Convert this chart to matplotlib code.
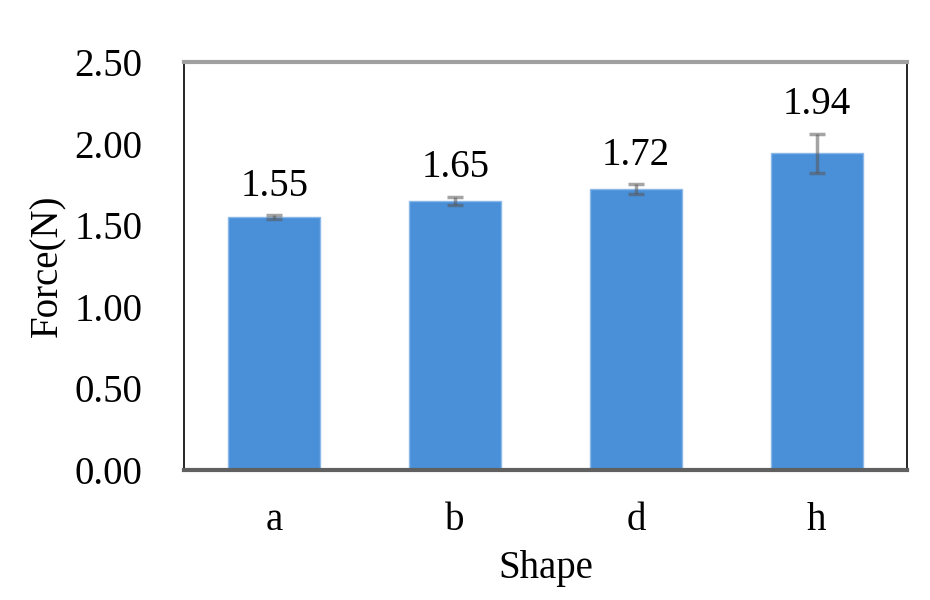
import matplotlib.pyplot as plt
import numpy as np

shapes = ['a', 'b', 'd', 'h']
force = [1.55, 1.65, 1.72, 1.94]
force_err = [0.01, 0.025, 0.03, 0.12]
yticks = [0.0, 0.5, 1.0, 1.5, 2.0, 2.5]

plt.rcParams['font.family'] = ['Liberation Serif', 'DejaVu Serif']
FS = 28

fig = plt.figure(figsize=(9.3, 6), dpi=100)
ax = fig.add_axes([184 / 930, 1 - 470 / 600, 723 / 930, 408 / 600])

x = np.arange(len(shapes))
ax.bar(x, force, width=0.51, color='#4a90d9', edgecolor='#8ab8e8', linewidth=1,
       yerr=force_err, capsize=6,
       error_kw=dict(ecolor=(0.35, 0.35, 0.35, 0.55), elinewidth=2.5, capthick=2.5))

for xi, v, e in zip(x, force, force_err):
    ax.text(xi, v + e + 0.12, '{0:.2f}'.format(v),
            ha='center', va='baseline', fontsize=FS)

ax.set_xlim(-0.5, len(shapes) - 0.5)
ax.set_ylim(0, 2.5)
ax.set_xticks(x)
ax.set_xticklabels(shapes)
ax.set_yticks(yticks)
ax.set_yticklabels(['{0:.2f}'.format(t) for t in yticks])
ax.tick_params(length=0, labelsize=FS)
ax.tick_params(axis='y', pad=30)
ax.tick_params(axis='x', pad=23)

ax.spines['top'].set_color('#a0a0a0')
ax.spines['top'].set_linewidth(3)
ax.spines['bottom'].set_color('#606060')
ax.spines['bottom'].set_linewidth(3)
ax.spines['left'].set_color('black')
ax.spines['left'].set_linewidth(1.2)
ax.spines['right'].set_color('black')
ax.spines['right'].set_linewidth(1.2)

ax.set_ylabel('Force(N)', fontsize=FS, labelpad=6)
ax.set_xlabel('Shape', fontsize=FS, labelpad=8)

fig.savefig('out.png', dpi=100)
